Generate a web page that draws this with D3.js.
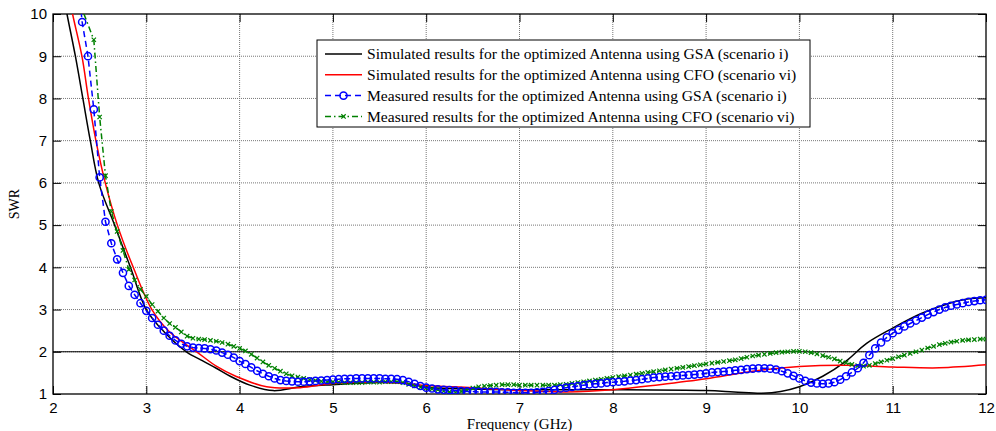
<!DOCTYPE html>
<html>
<head>
<meta charset="utf-8">
<script src="https://cdn.jsdelivr.net/npm/d3@7"></script>
<style>
  body { margin: 0; background: #fff; }
  svg { display: block; font-family: 'Liberation Serif', 'Times New Roman', serif; }
</style>
</head>
<body>
<svg id="chart"></svg>
<script>
const SVG_WIDTH = 996;
const SVG_HEIGHT = 431;

// Axis ticks.
const xTicks = [2, 3, 4, 5, 6, 7, 8, 9, 10, 11, 12];
const yTicks = [1, 2, 3, 4, 5, 6, 7, 8, 9, 10];

const legendLabels = [
  'Simulated results for the optimized Antenna using GSA (scenario i)',
  'Simulated results for the optimized Antenna using CFO (scenario vi)',
  'Measured results for the optimized Antenna using GSA (scenario i)',
  'Measured results for the optimized Antenna using CFO (scenario vi)'
];

// Simulated curves: [frequency GHz, SWR].
const simGsa = [
  [2.10, 10.6], [2.15, 10.0], [2.24, 9.0], [2.32, 8.0], [2.40, 7.0], [2.49, 6.0],
  [2.66, 5.0], [2.83, 4.0], [3.0, 3.0], [3.2, 2.45], [3.43, 2.0], [3.6, 1.79],
  [3.75, 1.61], [3.9, 1.42], [4.11, 1.21], [4.36, 1.08], [4.65, 1.17], [5.0, 1.22],
  [5.5, 1.27], [5.8, 1.25], [6.0, 1.16], [6.5, 1.12], [7.0, 1.1], [8.0, 1.1],
  [9.0, 1.08], [9.3, 1.05], [9.6, 1.02], [9.8, 1.06], [10.0, 1.17], [10.25, 1.42],
  [10.5, 1.78], [10.72, 2.2], [11.0, 2.56], [11.3, 2.9], [11.61, 3.15], [11.8, 3.25],
  [12.0, 3.28]
];
const simCfo = [
  [2.16, 10.6], [2.21, 10.0], [2.31, 9.0], [2.38, 8.0], [2.46, 7.0], [2.56, 6.0],
  [2.69, 5.0], [2.86, 4.0], [3.06, 3.0], [3.25, 2.47], [3.54, 2.0], [3.75, 1.66],
  [3.97, 1.41], [4.29, 1.17], [4.65, 1.15], [5.0, 1.25], [5.5, 1.28], [5.8, 1.25],
  [6.0, 1.2], [6.5, 1.15], [7.0, 1.08], [7.5, 1.05], [8.0, 1.1], [8.5, 1.22],
  [9.0, 1.36], [9.5, 1.54], [10.0, 1.65], [10.5, 1.68], [11.0, 1.64], [11.5, 1.62],
  [12.0, 1.69]
];

// Measured sweeps, one value every STEP GHz from the start frequency.
const STEP = 0.0625;
const measGsaStart = 2.3125;
const measGsa = [
  9.81, 9.0, 7.74, 6.13, 5.08, 4.57, 4.19, 3.87, 3.56, 3.35, 3.15, 2.97,
  2.80, 2.64, 2.50, 2.38, 2.27, 2.19, 2.13, 2.10, 2.09, 2.08, 2.06, 2.03,
  1.98, 1.93, 1.86, 1.78, 1.71, 1.63, 1.55, 1.48, 1.42, 1.37, 1.33, 1.31,
  1.30, 1.29, 1.29, 1.30, 1.31, 1.32, 1.33, 1.34, 1.35, 1.36, 1.36, 1.37,
  1.37, 1.37, 1.37, 1.37, 1.36, 1.36, 1.35, 1.33, 1.29, 1.24, 1.19, 1.15,
  1.13, 1.11, 1.10, 1.09, 1.08, 1.07, 1.06, 1.06, 1.05, 1.05, 1.05, 1.05,
  1.04, 1.04, 1.03, 1.03, 1.03, 1.03, 1.04, 1.05, 1.07, 1.10, 1.13, 1.15,
  1.17, 1.19, 1.21, 1.23, 1.24, 1.25, 1.27, 1.28, 1.29, 1.30, 1.32, 1.33,
  1.35, 1.37, 1.39, 1.40, 1.41, 1.42, 1.43, 1.44, 1.45, 1.46, 1.47, 1.49,
  1.51, 1.52, 1.53, 1.54, 1.56, 1.57, 1.59, 1.60, 1.61, 1.61, 1.60, 1.58,
  1.54, 1.49, 1.43, 1.37, 1.31, 1.27, 1.25, 1.24, 1.25, 1.28, 1.34, 1.42,
  1.51, 1.61, 1.74, 1.92, 2.08, 2.22, 2.34, 2.44, 2.52, 2.60, 2.67, 2.74,
  2.81, 2.88, 2.94, 3.00, 3.05, 3.09, 3.12, 3.15, 3.18, 3.20, 3.22, 3.23
];
const measCfoStart = 2.4375;
const measCfo = [
  9.39, 7.56, 6.17, 5.32, 4.85, 4.40, 3.95, 3.70, 3.48, 3.31, 3.12, 2.96,
  2.80, 2.67, 2.58, 2.47, 2.37, 2.32, 2.30, 2.29, 2.27, 2.25, 2.22, 2.18,
  2.13, 2.08, 2.02, 1.94, 1.85, 1.76, 1.68, 1.61, 1.54, 1.48, 1.43, 1.40,
  1.37, 1.34, 1.32, 1.30, 1.29, 1.28, 1.28, 1.27, 1.27, 1.27, 1.27, 1.28,
  1.28, 1.28, 1.29, 1.29, 1.29, 1.27, 1.23, 1.19, 1.16, 1.14, 1.12, 1.10,
  1.07, 1.05, 1.04, 1.06, 1.09, 1.14, 1.17, 1.19, 1.20, 1.21, 1.22, 1.22,
  1.22, 1.21, 1.21, 1.21, 1.21, 1.21, 1.21, 1.21, 1.22, 1.23, 1.25, 1.27,
  1.29, 1.31, 1.33, 1.35, 1.37, 1.39, 1.41, 1.43, 1.45, 1.47, 1.49, 1.51,
  1.53, 1.55, 1.57, 1.59, 1.61, 1.63, 1.65, 1.67, 1.69, 1.71, 1.73, 1.75,
  1.77, 1.79, 1.81, 1.84, 1.87, 1.90, 1.92, 1.94, 1.96, 1.98, 1.99, 2.00,
  2.01, 2.01, 2.00, 1.98, 1.95, 1.91, 1.87, 1.83, 1.78, 1.74, 1.70, 1.67,
  1.66, 1.68, 1.72, 1.76, 1.80, 1.84, 1.88, 1.92, 1.96, 2.00, 2.04, 2.09,
  2.13, 2.17, 2.20, 2.23, 2.25, 2.27, 2.28, 2.29, 2.30, 2.30
];

const margin = {top: 14, right: 10, bottom: 37, left: 53};
const plotW = SVG_WIDTH - margin.left - margin.right;
const plotH = SVG_HEIGHT - margin.top - margin.bottom;

const svg = d3
  .select('#chart')
  .attr('width', SVG_WIDTH)
  .attr('height', SVG_HEIGHT)
  .attr('viewBox', `0 0 ${SVG_WIDTH} ${SVG_HEIGHT}`);

const x = d3.scaleLinear().domain([2, 12]).range([margin.left, margin.left + plotW]);
const y = d3.scaleLinear().domain([1, 10]).range([margin.top + plotH, margin.top]);

svg.append('defs').append('clipPath').attr('id', 'plot-clip')
  .append('rect')
  .attr('x', margin.left).attr('y', margin.top)
  .attr('width', plotW).attr('height', plotH);

// Dotted grid lines.
const grid = svg.append('g').attr('stroke', '#777').attr('stroke-dasharray', '1,1');
grid.selectAll('.vg').data(xTicks.slice(1, -1)).join('line')
  .attr('x1', d => x(d)).attr('x2', d => x(d))
  .attr('y1', margin.top).attr('y2', margin.top + plotH);
grid.selectAll('.hg').data(yTicks.slice(1, -1)).join('line')
  .attr('y1', d => y(d)).attr('y2', d => y(d))
  .attr('x1', margin.left).attr('x2', margin.left + plotW);

// SWR = 2 reference line.
svg.append('line')
  .attr('x1', margin.left).attr('x2', margin.left + plotW)
  .attr('y1', y(2)).attr('y2', y(2))
  .attr('stroke', '#000').attr('stroke-width', 1);

// Axes with inward ticks on all four sides.
const TICK = 8;
const axisStyle = g => {
  g.select('.domain').remove();
  g.selectAll('line').attr('stroke', '#000');
  g.selectAll('text').attr('fill', '#000').style('font-size', '15px');
};
svg.append('g').attr('transform', `translate(0,${margin.top + plotH})`)
  .call(d3.axisBottom(x).tickValues(xTicks).tickSizeInner(-TICK).tickSizeOuter(0).tickPadding(8))
  .call(axisStyle);
svg.append('g').attr('transform', `translate(0,${margin.top})`)
  .call(d3.axisTop(x).tickValues(xTicks).tickSizeInner(-TICK).tickSizeOuter(0).tickFormat(''))
  .call(axisStyle);
svg.append('g').attr('transform', `translate(${margin.left},0)`)
  .call(d3.axisLeft(y).tickValues(yTicks).tickSizeInner(-TICK).tickSizeOuter(0).tickPadding(6))
  .call(axisStyle);
svg.append('g').attr('transform', `translate(${margin.left + plotW},0)`)
  .call(d3.axisRight(y).tickValues(yTicks).tickSizeInner(-TICK).tickSizeOuter(0).tickFormat(''))
  .call(axisStyle);

svg.append('rect')
  .attr('x', margin.left).attr('y', margin.top)
  .attr('width', plotW).attr('height', plotH)
  .attr('fill', 'none').attr('stroke', '#000').attr('stroke-width', 1.3);

// Axis titles.
svg.append('text')
  .attr('x', margin.left + plotW / 2).attr('y', 429)
  .attr('text-anchor', 'middle').style('font-size', '15px')
  .text('Frequency (GHz)');
svg.append('text')
  .attr('transform', `translate(19,${margin.top + plotH / 2}) rotate(-90)`)
  .attr('text-anchor', 'middle').style('font-size', '14px')
  .text('SWR');

// Data curves.
const plot = svg.append('g').attr('clip-path', 'url(#plot-clip)');
const smooth = d3.line().x(d => x(d[0])).y(d => y(d[1])).curve(d3.curveCatmullRom);
const straight = d3.line().x(d => x(d[0])).y(d => y(d[1]));

const toPoints = (start, values) => values.map((v, i) => [start + i * STEP, v]);
const gsaPoints = toPoints(measGsaStart, measGsa);
const cfoPoints = toPoints(measCfoStart, measCfo);

plot.append('path').datum(simGsa).attr('d', smooth)
  .attr('fill', 'none').attr('stroke', '#000').attr('stroke-width', 1.5);
plot.append('path').datum(simCfo).attr('d', smooth)
  .attr('fill', 'none').attr('stroke', '#ff0000').attr('stroke-width', 1.5);

plot.append('path').datum([[2.28, 10.3]].concat(cfoPoints)).attr('d', straight)
  .attr('fill', 'none').attr('stroke', '#008000').attr('stroke-width', 1.5)
  .attr('stroke-dasharray', '6,3,1.5,3');
const xMark = d3.symbol().type(d3.symbolTimes).size(14);
plot.selectAll('.cfo-mark').data(cfoPoints).join('path')
  .attr('transform', d => `translate(${x(d[0])},${y(d[1])})`)
  .attr('d', xMark)
  .attr('fill', '#008000').attr('stroke', '#008000').attr('stroke-width', 1.2);

plot.append('path').datum([[2.29, 10.3]].concat(gsaPoints)).attr('d', straight)
  .attr('fill', 'none').attr('stroke', '#0000ff').attr('stroke-width', 1.5)
  .attr('stroke-dasharray', '6,4');
plot.selectAll('.gsa-mark').data(gsaPoints).join('circle')
  .attr('cx', d => x(d[0])).attr('cy', d => y(d[1])).attr('r', 3.6)
  .attr('fill', 'none').attr('stroke', '#0000ff').attr('stroke-width', 1.5);

// Legend.
const legendStyles = [
  {color: '#000', dash: null, marker: null},
  {color: '#ff0000', dash: null, marker: null},
  {color: '#0000ff', dash: '6,4', marker: 'circle'},
  {color: '#008000', dash: '6,3,1.5,3', marker: 'x'}
];
const legend = svg.append('g').attr('transform', 'translate(317,40)');
legend.append('rect')
  .attr('width', 493).attr('height', 87)
  .attr('fill', '#fff').attr('stroke', '#000').attr('stroke-width', 1);
const rows = legend.selectAll('.row').data(legendLabels).join('g')
  .attr('transform', (d, i) => `translate(0,${14 + i * 20.8})`);
rows.append('line')
  .attr('x1', 8).attr('x2', 45)
  .attr('stroke', (d, i) => legendStyles[i].color).attr('stroke-width', 1.5)
  .attr('stroke-dasharray', (d, i) => legendStyles[i].dash);
rows.filter((d, i) => legendStyles[i].marker === 'circle').append('circle')
  .attr('cx', 26.5).attr('r', 3.6)
  .attr('fill', 'none').attr('stroke', '#0000ff').attr('stroke-width', 1.5);
rows.filter((d, i) => legendStyles[i].marker === 'x').append('path')
  .attr('transform', 'translate(26.5,0)').attr('d', xMark)
  .attr('fill', '#008000').attr('stroke', '#008000').attr('stroke-width', 1.2);
rows.append('text')
  .attr('x', 50).attr('dy', '0.33em')
  .style('font-size', '15.6px')
  .text(d => d);
</script>
</body>
</html>
